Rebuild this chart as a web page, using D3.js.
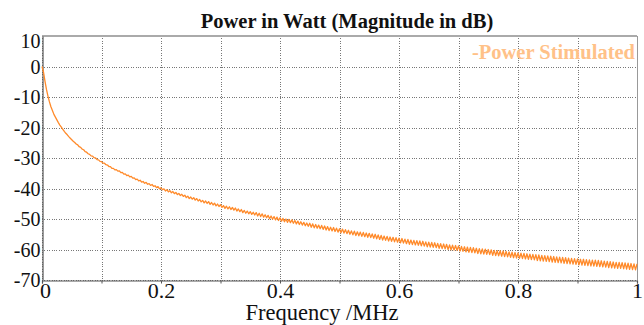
<!DOCTYPE html>
<html><head><meta charset="utf-8">
<script src="https://cdn.jsdelivr.net/npm/d3@7/dist/d3.min.js"></script>
<style>body{margin:0;background:#fff}svg{display:block}
svg text{font-family:"Liberation Serif";}</style>
</head><body>
<svg id="c" width="644" height="325"></svg>
<script>
const chartTitle = "Power in Watt (Magnitude in dB)";
const xAxisLabel = "Frequency /MHz";
const seriesName = "-Power Stimulated";
const xTickValues = [0, 0.2, 0.4, 0.6, 0.8, 1];
const xTickLabels = ["0", "0.2", "0.4", "0.6", "0.8", "1"];
const xGridValues = [0, 0.1, 0.2, 0.3, 0.4, 0.5, 0.6, 0.7, 0.8, 0.9, 1];
const yTickValues = [10, 0, -10, -20, -30, -40, -50, -60, -70];
const yTickLabels = ["10", "0", "-10", "-20", "-30", "-40", "-50", "-60", "-70"];
const freqStartMHz = 0, freqEndMHz = 1;
const powerDb = [
0,-1.8,-4.8,-7.5, -9.7,-11.6,-13.2,-14.4, -15.7,-16.6,-17.5,-18.4, -19.2,-19.9,-20.6,-21.3,
-21.9,-22.4,-23.0,-23.5, -24.0,-24.5,-24.9,-25.4, -25.7,-26.3,-26.5,-27.1, -27.3,-27.9,-28.1,-28.6,
-28.8,-29.3,-29.4,-29.9, -30.0,-30.5,-30.6,-31.1, -31.2,-31.7,-31.7,-32.2, -32.3,-32.8,-32.8,-33.4,
-33.4,-33.9,-33.8,-34.3, -34.2,-34.8,-34.7,-35.3, -35.2,-35.8,-35.6,-36.2, -36.0,-36.6,-36.5,-37.1,
-36.9,-37.5,-37.3,-37.9, -37.7,-38.3,-38.0,-38.6, -38.4,-39.0,-38.7,-39.3, -39.1,-39.7,-39.4,-40.1,
-39.8,-40.4,-40.1,-40.8, -40.4,-41.1,-40.7,-41.4, -41.0,-41.7,-41.3,-42.0, -41.6,-42.3,-41.9,-42.6,
-42.2,-43.0,-42.5,-43.3, -42.8,-43.5,-43.0,-43.8, -43.3,-44.1,-43.6,-44.4, -43.9,-44.7,-44.1,-44.9,
-44.3,-45.2,-44.6,-45.4, -44.8,-45.7,-45.1,-45.9, -45.3,-46.2,-45.6,-46.5, -45.8,-46.7,-46.0,-46.9,
-46.2,-47.1,-46.4,-47.4, -46.7,-47.6,-46.9,-47.9, -47.2,-48.1,-47.4,-48.3, -47.6,-48.5,-47.8,-48.7,
-47.9,-49.0,-48.1,-49.2, -48.3,-49.4,-48.6,-49.6, -48.8,-49.9,-49.0,-50.1, -49.2,-50.3,-49.4,-50.5,
-49.6,-50.7,-49.8,-50.9, -50.0,-51.1,-50.1,-51.2, -50.3,-51.4,-50.5,-51.6, -50.7,-51.8,-50.9,-52.0,
-51.1,-52.2,-51.3,-52.4, -51.4,-52.7,-51.6,-52.9, -51.8,-53.0,-52.0,-53.2, -52.1,-53.4,-52.3,-53.6,
-52.5,-53.8,-52.7,-53.9, -52.8,-54.1,-53.0,-54.3, -53.2,-54.5,-53.3,-54.6, -53.5,-54.8,-53.7,-55.0,
-53.9,-55.2,-54.0,-55.4, -54.2,-55.5,-54.3,-55.7, -54.4,-55.8,-54.6,-56.0, -54.7,-56.1,-54.9,-56.3,
-55.0,-56.5,-55.2,-56.7, -55.4,-56.9,-55.6,-57.0, -55.7,-57.2,-55.9,-57.3, -56.0,-57.5,-56.1,-57.6,
-56.3,-57.8,-56.4,-57.9, -56.6,-58.1,-56.7,-58.3, -56.9,-58.4,-57.0,-58.5, -57.1,-58.6,-57.2,-58.8,
-57.3,-58.9,-57.5,-59.1, -57.6,-59.2,-57.7,-59.3, -57.8,-59.4,-58.0,-59.6, -58.1,-59.7,-58.2,-59.8,
-58.3,-60.0,-58.5,-60.1, -58.6,-60.2,-58.7,-60.3, -58.8,-60.5,-59.0,-60.6, -59.1,-60.8,-59.2,-60.9,
-59.3,-61.0,-59.4,-61.1, -59.6,-61.3,-59.7,-61.4, -59.8,-61.5,-59.9,-61.6, -60.0,-61.7,-60.1,-61.9,
-60.3,-62.0,-60.4,-62.1, -60.4,-62.2,-60.5,-62.3, -60.6,-62.4,-60.8,-62.6, -60.9,-62.7,-61.0,-62.8,
-61.1,-62.9,-61.2,-63.0, -61.3,-63.1,-61.4,-63.2, -61.5,-63.3,-61.6,-63.4, -61.7,-63.6,-61.8,-63.7,
-61.9,-63.8,-62.0,-63.9, -62.1,-64.0,-62.2,-64.1, -62.3,-64.2,-62.4,-64.3, -62.5,-64.4,-62.6,-64.5,
-62.7,-64.6,-62.8,-64.7, -62.9,-64.8,-63.0,-64.9, -63.1,-65.0,-63.2,-65.1, -63.2,-65.2,-63.3,-65.3,
-63.4,-65.4,-63.5,-65.4, -63.5,-65.5,-63.6,-65.6, -63.7,-65.7,-63.8,-65.8, -63.9,-65.9,-64.0,-66.0,
-64.1,-66.1,-64.2,-66.2, -64.2,-66.2,-64.3,-66.3, -64.4,-66.4,-64.5,-66.5, -64.6,-66.6,-64.7,-66.7,
-64.7
];

const svg = d3.select("#c");
const W = 644, H = 325;
const m = {left: 42, right: 7, top: 36, bottom: 45};
const x = d3.scaleLinear().domain([freqStartMHz, freqEndMHz]).range([m.left, W - m.right]);
const y = d3.scaleLinear().domain([-70, 10]).range([H - m.bottom, m.top]);
const FONT = "Liberation Serif";

// grid
const grid = svg.append("g").attr("stroke", "#777").attr("stroke-width", 1).attr("stroke-dasharray", "1,1.4").attr("shape-rendering", "crispEdges");
grid.selectAll("line.v").data(xGridValues).join("line")
  .attr("x1", d => Math.round(x(d)) + 0.5).attr("x2", d => Math.round(x(d)) + 0.5)
  .attr("y1", y(10)).attr("y2", y(-70));
grid.selectAll("line.h").data(yTickValues).join("line")
  .attr("y1", d => Math.round(y(d)) + 0.5).attr("y2", d => Math.round(y(d)) + 0.5)
  .attr("x1", x(0)).attr("x2", x(1));

// frame
svg.append("line").attr("x1", x(0)).attr("x2", x(1)).attr("y1", y(10)).attr("y2", y(10))
  .attr("stroke", "#aaa").attr("stroke-width", 2);
svg.append("line").attr("x1", Math.round(x(1)) + 0.5).attr("x2", Math.round(x(1)) + 0.5).attr("y1", y(10)).attr("y2", y(-70))
  .attr("stroke", "#999").attr("stroke-width", 1);

// x axis
const xAxis = d3.axisBottom(x).tickValues(xGridValues).tickSize(3).tickPadding(0)
  .tickFormat(d => { const i = xTickValues.findIndex(v => Math.abs(v - d) < 1e-9); return i >= 0 ? xTickLabels[i] : ""; });
const gx = svg.append("g").attr("transform", `translate(0,${Math.round(y(-70)) + 0.5})`).call(xAxis);
gx.attr("font-family", null).attr("font-size", null);
gx.select(".domain").attr("stroke", "#555").attr("stroke-width", 1.2);
gx.selectAll(".tick line").attr("stroke", "#555");
gx.selectAll(".tick text").style("font-family", FONT).style("font-size", "22px").attr("fill", "#111").attr("dy", "0.66em")
  .attr("dx", d => d === 0 ? 3 : 0);

// y axis
const yAxis = d3.axisLeft(y).tickValues(yTickValues).tickSize(0).tickPadding(2)
  .tickFormat((d, i) => yTickLabels[i]);
const gy = svg.append("g").attr("transform", `translate(${Math.round(x(0)) + 0.5},0)`).call(yAxis);
gy.attr("font-family", null).attr("font-size", null);
gy.select(".domain").attr("stroke", "#555").attr("stroke-width", 1.2);
gy.selectAll(".tick text").style("font-family", FONT).style("font-size", "20px").attr("fill", "#111")
  .attr("dy", d => d === 10 ? "0.55em" : "0.33em");

// curve
const line = d3.line().x((d, i) => x(freqStartMHz + i * (freqEndMHz - freqStartMHz) / (powerDb.length - 1))).y(d => y(d));
svg.append("path").datum(powerDb).attr("d", line).attr("fill", "none")
  .attr("stroke", "#ff8a2a").attr("stroke-width", 1.3).attr("stroke-linejoin", "round");

// titles
svg.append("text").attr("x", 347).attr("y", 28).attr("text-anchor", "middle")
  .style("font-family", FONT).style("font-weight", "bold").style("font-size", "20.5px").attr("fill", "#111").text(chartTitle);
svg.append("text").attr("x", 322).attr("y", 320).attr("text-anchor", "middle")
  .style("font-family", FONT).style("font-size", "22.5px").attr("fill", "#111").text(xAxisLabel);
svg.append("text").attr("x", 635).attr("y", 59).attr("text-anchor", "end")
  .style("font-family", FONT).style("font-weight", "bold").style("font-size", "20.5px").attr("fill", "#ffc188").text(seriesName);
</script>
</body></html>
